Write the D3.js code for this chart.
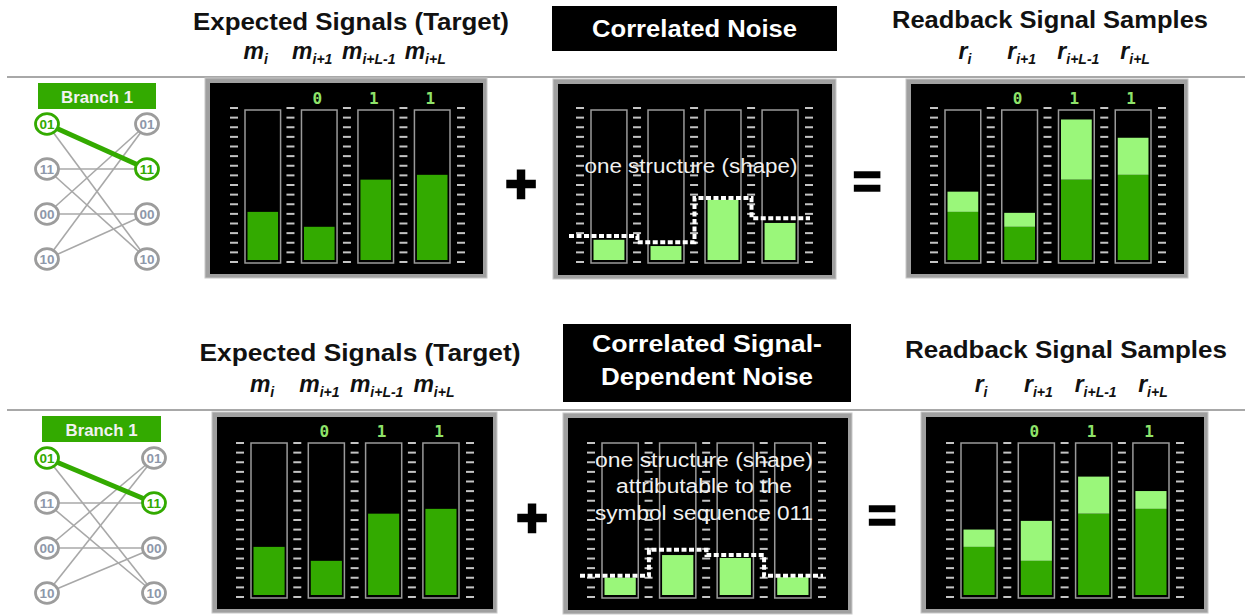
<!DOCTYPE html>
<html><head><meta charset="utf-8">
<script src="https://cdn.jsdelivr.net/npm/d3@7"></script>
<style>body{margin:0;background:#fff;} svg{display:block;}</style>
</head><body>
<svg id="c" width="1245" height="615"></svg>
<script>
// ---------- data ----------
const columns = ["i", "i+1", "i+L-1", "i+L"];
const symbols = ["", "0", "1", "1"];
const trellisStates = ["01", "11", "00", "10"];
const trellisEdges = [["01","11"],["01","10"],["11","11"],["11","10"],["00","01"],["00","00"],["10","01"],["10","00"]];
const branchPath = ["01", "11"];
const targetTop = [5.0, 3.45, 8.35, 8.85];
const noiseTop = [2.1, 1.45, 6.25, 3.85];
const shapeTop = [2.5, 1.85, 6.45, 4.35];
const targetBottom = [5.0, 3.55, 8.45, 8.95];
const noiseBottom = [1.8, 4.15, 3.85, 1.85];
const shapeBottom = [2.0, 4.7, 4.15, 2.0];
const noiseTitleTop = ["Correlated Noise"];
const noiseTitleBottom = ["Correlated Signal-", "Dependent Noise"];
const noiseTextTop = ["one structure (shape)"];
const noiseTextBottom = ["one structure (shape)", "attributable to the", "symbol sequence 011"];

// ---------- layout ----------
const rows = [
  { target: targetTop, noise: noiseTop, shape: shapeTop,
    titles: noiseTitleTop, texts: noiseTextTop,
    base: 260, colTop: 110, colBot: 263, sepY: 77,
    trellis: { box: [38, 83, 118, 26], textY: 103, lx: 47, rx: 147, ry: [124, 259] },
    exp: { x: 205, y: 78, w: 282, h: 200, c0: 245, c1: 450 },
    noi: { x: 553, y: 79, w: 283, h: 200, c0: 591, c1: 798 },
    rd:  { x: 906, y: 79, w: 282, h: 199, c0: 945, c1: 1151 },
    expTitle: [351, 30, 316], labY: 59,
    nBox: [552, 6, 285, 45], nTitleY: [37], nTitleW: [205], nCx: 694.5,
    nTextY: [173], nTextW: [213], nTextCx: 691,
    rdTitle: [1050, 28, 316],
    plus: [521, 184], eq: [867, 182] },
  { target: targetBottom, noise: noiseBottom, shape: shapeBottom,
    titles: noiseTitleBottom, texts: noiseTextBottom,
    base: 595, colTop: 443, colBot: 598, sepY: 410,
    trellis: { box: [42, 416, 119, 26], textY: 436, lx: 47, rx: 154, ry: [458, 593] },
    exp: { x: 212, y: 412, w: 285, h: 201, c0: 251, c1: 459 },
    noi: { x: 563, y: 413, w: 289, h: 201, c0: 602, c1: 811 },
    rd:  { x: 921, y: 412, w: 287, h: 201, c0: 961, c1: 1169 },
    expTitle: [360, 361, 321], labY: 392,
    nBox: [563, 324, 288, 78], nTitleY: [352, 385], nTitleW: [230, 212], nCx: 707,
    nTextY: [467, 493, 520], nTextW: [218, 176, 218], nTextCx: 704,
    rdTitle: [1066, 358, 322],
    plus: [532, 518], eq: [882, 516] }
];

const DARK = "#33aa00", LIGHT = "#9af77a", SYM = "#8fe36a";
const FONT = "'Liberation Sans', Arial, Helvetica, sans-serif";
const svg = d3.select("#c");

function txt(g, str, x, y, size, weight, fill, width, style) {
  const t = g.append("text").attr("x", x).attr("y", y).attr("text-anchor", "middle")
    .attr("font-family", FONT).attr("font-size", size).attr("font-weight", weight)
    .attr("fill", fill).text(str);
  if (style) t.attr("font-style", style);
  if (width) t.attr("textLength", width).attr("lengthAdjust", "spacingAndGlyphs");
  return t;
}

function subLabel(g, base, sub, x, y) {
  const t = g.append("text").attr("x", x).attr("y", y).attr("text-anchor", "middle")
    .attr("font-family", FONT).attr("font-weight", "bold").attr("font-style", "italic")
    .attr("font-size", 23).attr("fill", "#111");
  t.append("tspan").text(base);
  t.append("tspan").attr("font-size", 14).attr("dy", 5).text(sub);
}

function panel(g, row, cfg, showSym) {
  g.append("rect").attr("x", cfg.x).attr("y", cfg.y).attr("width", cfg.w).attr("height", cfg.h)
    .attr("fill", "#a0a0a0").attr("stroke", "#c8c8c8").attr("stroke-width", 1);
  g.append("rect").attr("x", cfg.x + 5).attr("y", cfg.y + 5).attr("width", cfg.w - 9).attr("height", cfg.h - 9)
    .attr("fill", "#000");
  const xb = d3.scaleBand().domain(columns).range([cfg.c0, cfg.c1]).paddingInner(0.37).paddingOuter(0);
  const y = d3.scaleLinear().domain([0, 16]).range([row.base, row.base - 154]);
  const bw = xb.bandwidth();
  // tick dashes
  const dashX = columns.map(c => xb(c) - 11).concat([xb(columns[3]) + bw + 11]);
  const ticks = y.ticks(16);
  dashX.forEach(dx => {
    g.selectAll(null).data(ticks).enter().append("rect")
      .attr("x", dx - 4).attr("y", d => y(d) + 1).attr("width", 8).attr("height", 2)
      .attr("fill", "#c4c4c4");
  });
  // column outlines
  g.selectAll(null).data(columns).enter().append("rect")
    .attr("x", d => xb(d)).attr("y", row.colTop).attr("width", bw).attr("height", row.colBot - row.colTop)
    .attr("fill", "#000").attr("stroke", "#9a9a9a").attr("stroke-width", 1.5);
  if (showSym) {
    g.selectAll(null).data(columns).enter().append("text")
      .attr("x", d => xb(d) + bw / 2 - 2).attr("y", row.colTop - 6)
      .attr("text-anchor", "middle").attr("font-family", "'DejaVu Sans Mono', monospace")
      .attr("font-weight", "bold").attr("font-size", 16).attr("fill", SYM)
      .text((d, i) => symbols[i]);
  }
  return { xb, y, bw };
}

rows.forEach(row => {
  const g = svg.append("g");
  // separator
  g.append("line").attr("x1", 7).attr("x2", 1245).attr("y1", row.sepY).attr("y2", row.sepY)
    .attr("stroke", "#a8a8a8").attr("stroke-width", 2);

  // ---- trellis ----
  const T = row.trellis;
  const ys = d3.scalePoint().domain(trellisStates).range(T.ry);
  g.append("rect").attr("x", T.box[0]).attr("y", T.box[1]).attr("width", T.box[2]).attr("height", T.box[3]).attr("fill", DARK);
  txt(g, "Branch 1", T.box[0] + T.box[2] / 2, T.textY, 17, "bold", "#f2f2f2", 72);
  g.selectAll(null).data(trellisEdges).enter().append("line")
    .attr("x1", T.lx).attr("x2", T.rx).attr("y1", d => ys(d[0])).attr("y2", d => ys(d[1]))
    .attr("stroke", "#a8a8a8").attr("stroke-width", 1.6);
  g.append("line").attr("x1", T.lx).attr("x2", T.rx).attr("y1", ys(branchPath[0])).attr("y2", ys(branchPath[1]))
    .attr("stroke", DARK).attr("stroke-width", 5);
  [["L", T.lx, branchPath[0]], ["R", T.rx, branchPath[1]]].forEach(([side, cx, hi]) => {
    const nodes = g.selectAll(null).data(trellisStates).enter().append("g")
      .attr("transform", d => `translate(${cx},${ys(d)})`);
    nodes.append("ellipse").attr("rx", 11.5).attr("ry", 10.3).attr("fill", "#fff")
      .attr("stroke", d => d === hi ? DARK : "#9c9c9c").attr("stroke-width", 2.8);
    nodes.append("text").attr("text-anchor", "middle").attr("dy", "0.36em")
      .attr("font-family", FONT).attr("font-weight", "bold").attr("font-size", 13.5)
      .attr("fill", d => d === hi ? DARK : "#8e98aa").text(d => d);
  });

  // ---- expected panel ----
  txt(g, "Expected Signals (Target)", row.expTitle[0], row.expTitle[1], 24, "bold", "#111", row.expTitle[2]);
  const E = panel(g, row, row.exp, true);
  columns.forEach(c => subLabel(g, "m", c, E.xb(c) + E.bw / 2 - 7, row.labY));
  g.selectAll(null).data(row.target).enter().append("rect")
    .attr("x", (d, i) => E.xb(columns[i]) + 2.5).attr("width", E.bw - 5)
    .attr("y", d => E.y(d)).attr("height", d => E.y(0) - E.y(d)).attr("fill", DARK);

  // ---- noise panel ----
  g.append("rect").attr("x", row.nBox[0]).attr("y", row.nBox[1]).attr("width", row.nBox[2]).attr("height", row.nBox[3]).attr("fill", "#000");
  row.titles.forEach((s, i) => txt(g, s, row.nCx, row.nTitleY[i], 24, "bold", "#fff", row.nTitleW[i]));
  const N = panel(g, row, row.noi, false);
  g.selectAll(null).data(row.noise).enter().append("rect")
    .attr("x", (d, i) => N.xb(columns[i]) + 2.5).attr("width", N.bw - 5)
    .attr("y", d => N.y(d)).attr("height", d => N.y(0) - N.y(d)).attr("fill", LIGHT);
  row.texts.forEach((s, i) => txt(g, s, row.nTextCx, row.nTextY[i], 20, "normal", "#f0f0f0", row.nTextW[i]));
  const pts = [[N.xb(columns[0]) - 22, row.shape[0]]]
    .concat(columns.map((c, i) => [N.xb(c) + N.bw / 2, row.shape[i]]))
    .concat([[N.xb(columns[3]) + N.bw + 12, row.shape[3]]]);
  g.append("path").attr("d", d3.line().x(d => d[0]).y(d => N.y(d[1])).curve(d3.curveStep)(pts))
    .attr("fill", "none").attr("stroke", "#fff").attr("stroke-width", 4).attr("stroke-dasharray", "5 2.5");

  // ---- readback panel ----
  txt(g, "Readback Signal Samples", row.rdTitle[0], row.rdTitle[1], 24, "bold", "#111", row.rdTitle[2]);
  const R = panel(g, row, row.rd, true);
  columns.forEach(c => subLabel(g, "r", c, R.xb(c) + R.bw / 2 + 2, row.labY));
  const stackData = columns.map((c, i) => ({ col: c, target: row.target[i], noise: row.noise[i] }));
  const stacked = d3.stack().keys(["target", "noise"])(stackData);
  g.selectAll(null).data(stacked).enter().append("g")
    .attr("fill", d => d.key === "target" ? DARK : LIGHT)
    .selectAll("rect").data(d => d).enter().append("rect")
    .attr("x", d => R.xb(d.data.col) + 2.5).attr("width", R.bw - 5)
    .attr("y", d => R.y(d[1])).attr("height", d => R.y(d[0]) - R.y(d[1]));

  // ---- operators ----
  g.append("text").attr("x", row.plus[0]).attr("y", row.plus[1] + 18).attr("text-anchor", "middle")
    .attr("font-family", FONT).attr("font-weight", "bold").attr("font-size", 54)
    .attr("fill", "#000").attr("stroke", "#000").attr("stroke-width", 2.5).text("+");
  g.append("text").attr("x", row.eq[0]).attr("y", row.eq[1] + 17).attr("text-anchor", "middle")
    .attr("font-family", FONT).attr("font-weight", "bold").attr("font-size", 50)
    .attr("fill", "#000").attr("stroke", "#000").attr("stroke-width", 1.5).text("=");
});
</script>
</body></html>
